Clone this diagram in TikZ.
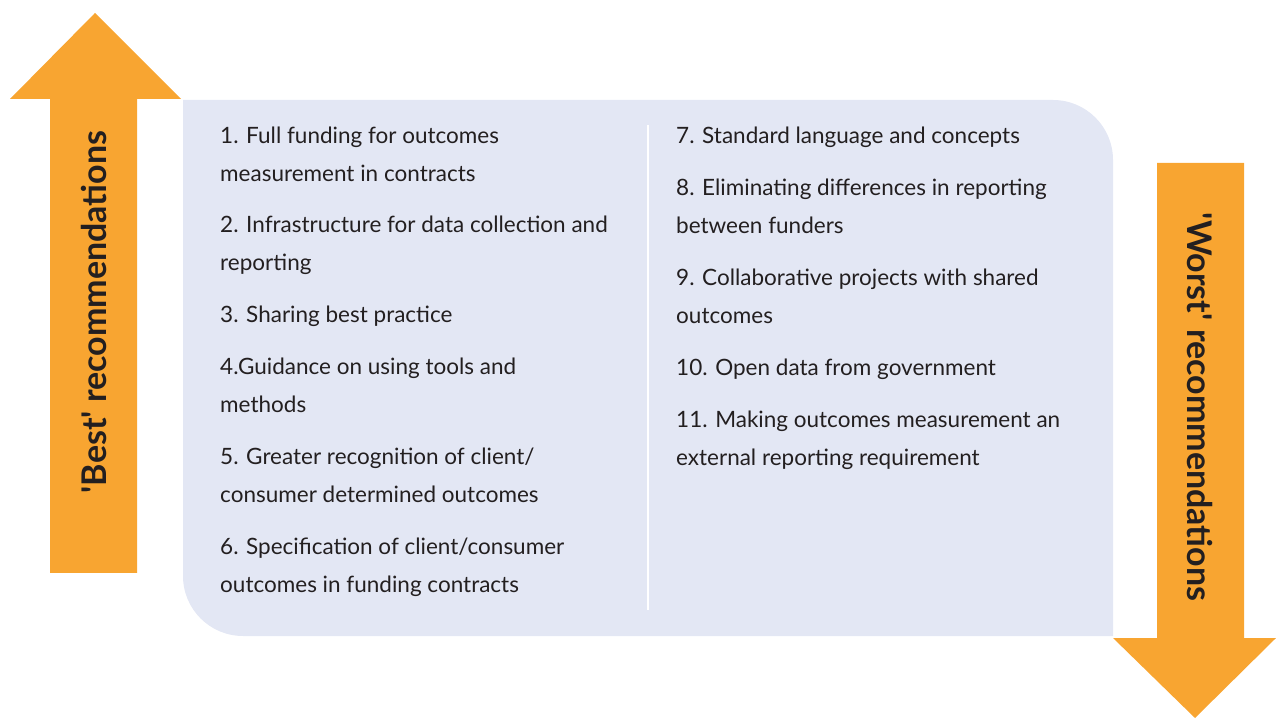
\documentclass[tikz,border=0pt]{standalone}
\usepackage{fontspec}
\setmainfont{Lato}
\usepackage{tikz}
\definecolor{arroworange}{RGB}{248,165,49}
\definecolor{boxblue}{RGB}{227,231,244}
\definecolor{inkgray}{RGB}{35,31,32}
\tikzset{
  item/.style={anchor=base west, align=left, inner sep=0pt, text=inkgray,
    font=\fontsize{22.5}{37.5}\selectfont},
  heading/.style={inner sep=0pt, text=inkgray,
    font=\fontsize{34}{40}\selectfont\bfseries}
}

\begin{document}
\begin{tikzpicture}[x=1pt,y=1pt]
    \useasboundingbox (0,0) rectangle (1276,720);
    % panel and divider
    \fill[boxblue] (183,620) -- (1053,620) arc[start angle=90,end angle=0,radius=60]
        -- (1113,84) -- (243,84) arc[start angle=270,end angle=180,radius=60] -- cycle;
    \draw[white,line width=2pt] (648,595) -- (648,110);
    % arrows
    \fill[arroworange] (50,147) -- (50,621) -- (10,621) -- (95,707) -- (181,621)
        -- (137,621) -- (137,147) -- cycle;
    \fill[arroworange] (1157,557) -- (1244,557) -- (1244,82) -- (1276,82) -- (1195,2)
        -- (1113,82) -- (1157,82) -- cycle;
    \node[heading, rotate=90] (best) at (94,408) {\textquotesingle Best\textquotesingle\ recommendations};
    \node[heading, rotate=-90] (worst) at (1200,313) {\textquotesingle Worst\textquotesingle\ recommendations};
    % left column (y = baseline of last line)
    \node[item] (r1) at (220,538.5) {1. Full funding for outcomes\\measurement in contracts};
    \node[item] (r2) at (220,449.5) {2. Infrastructure for data collection and\\reporting};
    \node[item] (r3) at (220,397) {3. Sharing best practice};
    \node[item] (r4) at (220,307.5) {4.Guidance on using tools and\\methods};
    \node[item] (r5) at (220,217.5) {5. Greater recognition of client/\\consumer determined outcomes};
    \node[item] (r6) at (220,127.5) {6. Specification of client/consumer\\outcomes in funding contracts};
    % right column
    \node[item] (r7) at (676,576) {7. Standard language and concepts};
    \node[item] (r8) at (676,486.5) {8. Eliminating differences in reporting\\between funders};
    \node[item] (r9) at (676,396.5) {9. Collaborative projects with shared\\outcomes};
    \node[item] (r10) at (676,344) {10. Open data from government};
    \node[item] (r11) at (676,254.5) {11. Making outcomes measurement an\\external reporting requirement};
\end{tikzpicture}
\end{document}
